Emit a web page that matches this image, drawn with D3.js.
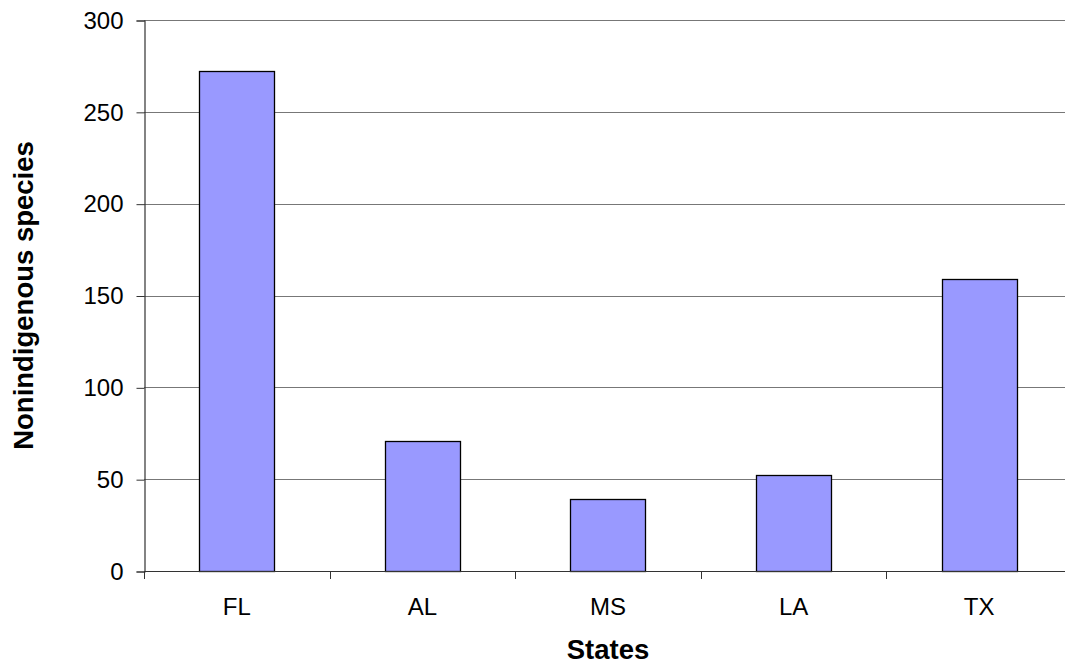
<!DOCTYPE html>
<html>
<head>
<meta charset="utf-8">
<script src="https://cdn.jsdelivr.net/npm/d3@7"></script>
<style>
  html, body { margin: 0; padding: 0; background: #fff; }
  svg { display: block; }
</style>
</head>
<body>
<script>
// Nonindigenous species counts by Gulf state
const states = ["FL", "AL", "MS", "LA", "TX"];
const speciesCounts = [272, 71, 39, 52, 159];
const yTicks = [0, 50, 100, 150, 200, 250, 300];

const W = 1065, H = 666;
const margin = { left: 144, right: -7, top: 20, bottom: 95 };

const svg = d3.select("body").append("svg")
  .attr("width", W).attr("height", H);

const x = d3.scaleBand()
  .domain(states)
  .range([margin.left, W - margin.right])
  .paddingInner(0.595)
  .paddingOuter(0.2975);

const y = d3.scaleLinear()
  .domain([0, 300])
  .range([H - margin.bottom, margin.top]);

const font = "Arial, 'Liberation Sans', sans-serif";

// horizontal gridlines
svg.append("g")
  .selectAll("line")
  .data(yTicks.filter(d => d > 0))
  .join("line")
  .attr("x1", margin.left)
  .attr("x2", W - margin.right)
  .attr("y1", d => Math.round(y(d)) + 0.5)
  .attr("y2", d => Math.round(y(d)) + 0.5)
  .attr("stroke", "#777")
  .attr("stroke-width", 1);

// bars
svg.append("g")
  .selectAll("rect")
  .data(states.map((s, i) => ({ s, v: speciesCounts[i] })))
  .join("rect")
  .attr("x", d => Math.round(x(d.s)) + 0.5)
  .attr("y", d => Math.round(y(d.v)) + 0.5)
  .attr("width", Math.round(x.bandwidth()))
  .attr("height", d => Math.round(y(0)) - Math.round(y(d.v)))
  .attr("fill", "#9999ff")
  .attr("stroke", "#000")
  .attr("stroke-width", 1.3);

// y axis
const yAxis = d3.axisLeft(y)
  .tickValues(yTicks)
  .tickSize(8)
  .tickPadding(13)
  .tickFormat(d3.format("d"));

const gy = svg.append("g")
  .attr("transform", `translate(${margin.left + 0.5},0.5)`)
  .call(yAxis);
gy.select(".domain").attr("stroke", "#333").attr("stroke-width", 1.2);
gy.selectAll(".tick line").attr("stroke", "#333");
gy.selectAll(".tick text")
  .attr("font-family", font)
  .attr("font-size", 24)
  .attr("fill", "#000");

// x axis with ticks on category boundaries
const boundaries = d3.range(states.length + 1).map(i =>
  margin.left + i * x.step());
const gx = svg.append("g");
gx.append("line")
  .attr("x1", margin.left)
  .attr("x2", W - margin.right)
  .attr("y1", Math.round(y(0)) + 0.5)
  .attr("y2", Math.round(y(0)) + 0.5)
  .attr("stroke", "#333")
  .attr("stroke-width", 1.2);
gx.selectAll(".bt")
  .data(boundaries)
  .join("line")
  .attr("class", "bt")
  .attr("x1", d => Math.round(d) + 0.5)
  .attr("x2", d => Math.round(d) + 0.5)
  .attr("y1", Math.round(y(0)) + 0.5)
  .attr("y2", Math.round(y(0)) + 8)
  .attr("stroke", "#333");
gx.selectAll("text")
  .data(states)
  .join("text")
  .attr("x", d => x(d) + x.bandwidth() / 2)
  .attr("y", Math.round(y(0)) + 44)
  .attr("text-anchor", "middle")
  .attr("font-family", font)
  .attr("font-size", 24)
  .attr("fill", "#000")
  .text(d => d);

// axis titles
svg.append("text")
  .attr("x", (margin.left + W - margin.right) / 2)
  .attr("y", 659)
  .attr("text-anchor", "middle")
  .attr("font-family", font)
  .attr("font-size", 27.5)
  .attr("font-weight", "bold")
  .text("States");

svg.append("text")
  .attr("transform", `translate(33,${(margin.top + H - margin.bottom) / 2}) rotate(-90)`)
  .attr("text-anchor", "middle")
  .attr("font-family", font)
  .attr("font-size", 27.5)
  .attr("font-weight", "bold")
  .text("Nonindigenous species");
</script>
</body>
</html>
